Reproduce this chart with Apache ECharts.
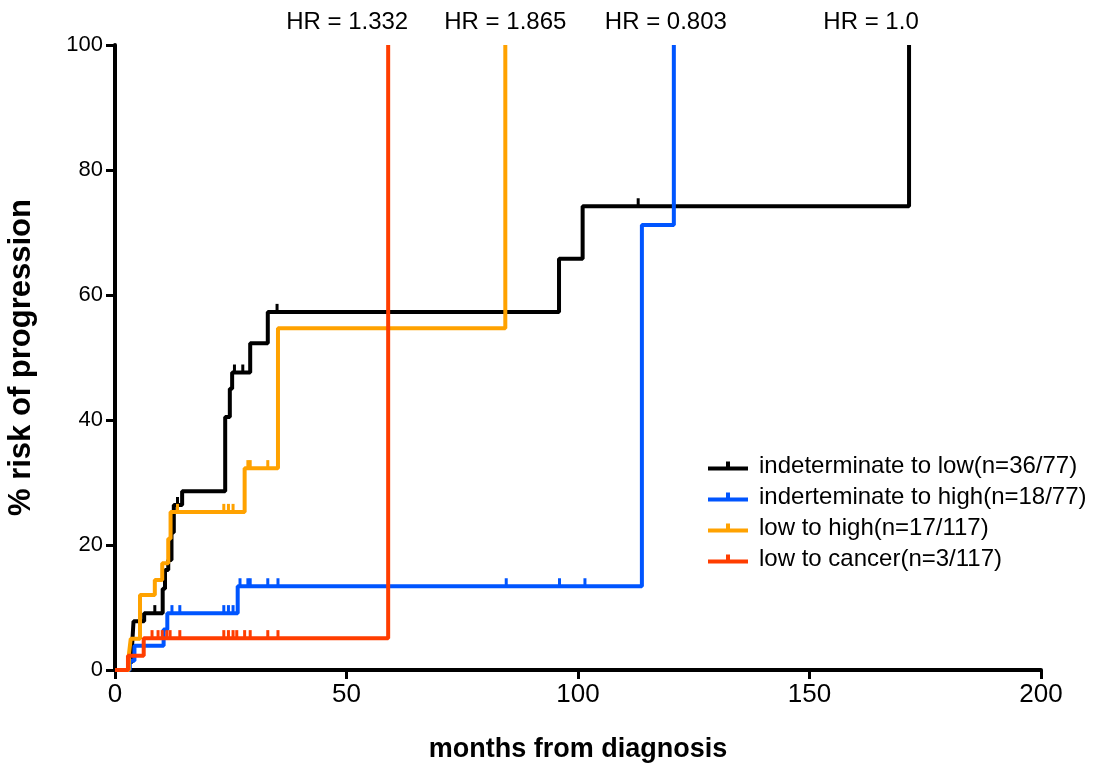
<!DOCTYPE html>
<html>
<head>
<meta charset="utf-8">
<script src="https://cdn.jsdelivr.net/npm/echarts@6/dist/echarts.min.js"></script>
<style>
html,body{margin:0;padding:0;background:#fff;}
#chart{width:1105px;height:767px;}
</style>
</head>
<body>
<div id="chart"></div>
<script>
// ---------- data ----------
const seriesNames = [
  'indeterminate to low(n=36/77)',
  'inderteminate to high(n=18/77)',
  'low to high(n=17/117)',
  'low to cancer(n=3/117)'
];
const hrLabels = ['HR = 1.0', 'HR = 0.803', 'HR = 1.865', 'HR = 1.332'];
const xTicks = [0, 50, 100, 150, 200];
const yTicks = [0, 20, 40, 60, 80, 100];

// cumulative risk steps [month, %]
const blackSteps = [[0,0],[3,1.3],[3.7,4],[4,7.8],[6.3,9.1],[10.3,13],[10.8,16],[11.5,17.6],[12.2,22],[12.7,26.4],[14.5,28.6],[23.8,40.5],[24.8,45],[25.3,47.6],[29.2,52.3],[33,57.3],[95.9,65.8],[101,74.2],[171.5,100]];
const blueSteps  = [[0,0],[3.2,1.5],[4.2,3.9],[10.5,6.5],[11.3,9.1],[26.5,13.4],[113.8,71.2],[120.7,100]];
const orangeSteps= [[0,0],[3,2.5],[3.4,5],[5.4,12],[8.6,14.4],[10.2,17.1],[11.5,21],[12,25.3],[28,32.3],[35.2,54.7],[84.3,100]];
const redSteps   = [[0,0],[2.8,2.3],[6.2,5.1],[59,100]];

// censor marks [month, %]
const blackCensor = [[8.6,9.1],[13.5,26.4],[25.8,47.6],[27.6,47.6],[35,57.3],[113,74.2]];
const blueCensor  = [[12.3,9.1],[14,9.1],[23.5,9.1],[24.5,9.1],[25.5,9.1],[27,13.4],[28.7,13.4],[29.2,13.4],[33,13.4],[35.2,13.4],[84.5,13.4],[96,13.4],[101.5,13.4]];
const orangeCensor= [[13.5,25.3],[23.5,25.3],[24.5,25.3],[25.5,25.3],[28.7,32.3],[29.2,32.3],[33,32.3]];
const redCensor   = [[8,5.1],[9.3,5.1],[10.2,5.1],[11.2,5.1],[11.9,5.1],[14,5.1],[23.5,5.1],[24.5,5.1],[25.5,5.1],[26.3,5.1],[28,5.1],[29.2,5.1],[33,5.1],[35.2,5.1]];

// HR label anchor = end time of each curve
const hrTimes = [171.5, 120.7, 84.3, 59];

// ---------- styling ----------
const colors = ['#000000', '#0055ff', '#ffa200', '#ff3d00'];
const hrOffsets = [[-38,0],[-8,0],[0,0],[-41,0]];
const stepsAll = [blackSteps, blueSteps, orangeSteps, redSteps];
const censorAll = [blackCensor, blueCensor, orangeCensor, redCensor];

const font = 'Liberation Sans, Arial, Helvetica, sans-serif';
const legendIcon = 'path://M0,5H40V9H0Z M18,0H22V5H18Z';

const series = [];
stepsAll.forEach((d, i) => {
  series.push({
    name: seriesNames[i], type: 'line', step: 'end', data: d,
    showSymbol: false, symbol: 'none',
    lineStyle: { color: colors[i], width: 4 }, itemStyle: { color: colors[i] },
    z: 2 + i, silent: true, animation: false
  });
});
censorAll.forEach((d, i) => {
  series.push({
    name: seriesNames[i], type: 'scatter', data: d,
    symbol: 'rect', symbolSize: [3, 8], symbolOffset: [0, -4],
    itemStyle: { color: colors[i], opacity: 1 }, z: 2 + i, silent: true, animation: false
  });
});
series.push({
  type: 'scatter', name: 'hr', data: hrTimes.map((t, i) => ({
    value: [t, 100],
    label: { show: true, formatter: hrLabels[i], position: 'top', distance: 11, offset: hrOffsets[i],
      color: '#000', opacity: 1, fontSize: 24, fontFamily: font }
  })),
  itemStyle: { opacity: 1, color: '#000' },
  symbolSize: 0, silent: true, animation: false
});

const chart = echarts.init(document.getElementById('chart'));
chart.setOption({
  backgroundColor: '#fff',
  animation: false,
  grid: { left: 115, right: 64, top: 45, bottom: 97, containLabel: false, outerBoundsMode: 'none' },
  legend: {
    data: seriesNames.map((n, i) => ({ name: n, icon: legendIcon, itemStyle: { color: colors[i], opacity: 1 } })),
    orient: 'vertical', left: 703, top: 449,
    itemWidth: 42, itemHeight: 9, itemGap: 7,
    textStyle: { fontSize: 24, color: '#000', fontFamily: font, padding: [0, 0, 0, 5] },
    selectedMode: false
  },
  xAxis: {
    type: 'value', min: 0, max: 200, interval: 50,
    name: 'months from diagnosis', nameLocation: 'middle', nameGap: 66,
    nameTextStyle: { fontSize: 27, fontWeight: 'bold', color: '#000', fontFamily: font },
    axisLine: { show: true, onZero: false, lineStyle: { color: '#000', width: 4 } },
    axisTick: { show: true, length: 9, lineStyle: { color: '#000', width: 3 } },
    axisLabel: { fontSize: 26, color: '#000', fontFamily: font, margin: 12,
      formatter: v => xTicks.includes(v) ? String(v) : '' },
    splitLine: { show: false }
  },
  yAxis: {
    type: 'value', min: 0, max: 100, interval: 20,
    name: '% risk of progression', nameLocation: 'middle', nameGap: 78, nameRotate: 90,
    nameTextStyle: { fontSize: 31, fontWeight: 'bold', color: '#000', fontFamily: font },
    axisLine: { show: true, onZero: false, lineStyle: { color: '#000', width: 4 } },
    axisTick: { show: true, length: 9, lineStyle: { color: '#000', width: 3 } },
    axisLabel: { fontSize: 22, color: '#000', fontFamily: font, margin: 12,
      formatter: v => yTicks.includes(v) ? String(v) : '' },
    splitLine: { show: false }
  },
  series: series
});
</script>
</body>
</html>
